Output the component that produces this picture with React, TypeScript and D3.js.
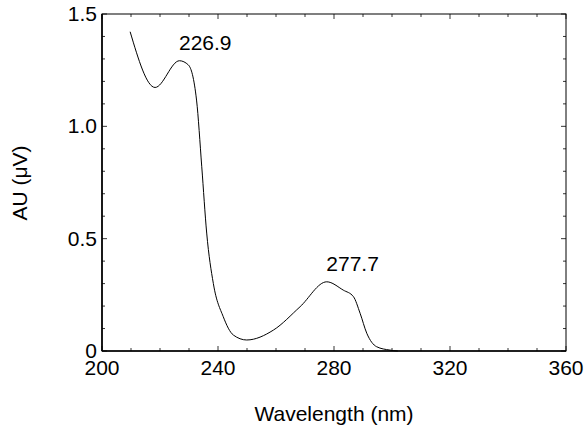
// @ts-nocheck
import React, { useEffect, useRef } from "react";
import * as d3 from "d3";

const wavelength = [209.7, 218.3, 226.7, 229.8, 232.6, 234.4, 236.1, 238.4, 241.8, 245.3, 249.9, 259.1, 268.3, 277.5, 283.2, 286.7, 289, 291.3, 294.7, 299.3, 302];
const absorbance = [1.421, 1.173, 1.292, 1.273, 1.117, 0.82, 0.525, 0.3, 0.153, 0.071, 0.049, 0.093, 0.197, 0.308, 0.271, 0.242, 0.168, 0.079, 0.019, 0.004, 0.0];
const peaks = [{ x: 226.9, label: "226.9" }, { x: 277.7, label: "277.7" }];
const peakY = [1.29, 0.308];
const xTicks = [200, 240, 280, 320, 360];
const yTicks = [0, 0.5, 1.0, 1.5];
const yTickLabels = ["0", "0.5", "1.0", "1.5"];

export default function App() {
  const ref = useRef();
  useEffect(() => {
    const svg = d3.select(ref.current);
    svg.selectAll("*").remove();
    const W = 587, H = 433;
    const m = { left: 102, right: 566, top: 14, bottom: 351 };
    const x = d3.scaleLinear().domain([200, 360]).range([m.left, m.right]);
    const y = d3.scaleLinear().domain([0, 1.5]).range([m.bottom, m.top]);
    const font = "Liberation Sans, Arial, sans-serif";
    const fs = 21;

    svg.append("rect").attr("width", W).attr("height", H).attr("fill", "white");

    // ticks, inward on all four sides
    const g = svg.append("g").attr("stroke", "black").attr("stroke-width", 0.8);
    d3.range(200, 361, 10).forEach((v) => {
      const len = v % 40 === 0 ? 5 : 3;
      g.append("line").attr("x1", x(v)).attr("x2", x(v)).attr("y1", m.bottom).attr("y2", m.bottom - len);
      g.append("line").attr("x1", x(v)).attr("x2", x(v)).attr("y1", m.top).attr("y2", m.top + len);
    });
    d3.range(0, 16).forEach((i) => {
      const v = i / 10;
      const len = i % 5 === 0 ? 5 : 3;
      g.append("line").attr("y1", y(v)).attr("y2", y(v)).attr("x1", m.left).attr("x2", m.left + len);
      g.append("line").attr("y1", y(v)).attr("y2", y(v)).attr("x1", m.right).attr("x2", m.right - len);
    });

    svg.append("rect").attr("x", m.left).attr("y", m.top).attr("width", m.right - m.left)
      .attr("height", m.bottom - m.top).attr("fill", "none").attr("stroke", "black").attr("stroke-width", 1);
    svg.append("line").attr("x1", m.left).attr("x2", m.right).attr("y1", m.bottom).attr("y2", m.bottom)
      .attr("stroke", "black").attr("stroke-width", 1.6);
    svg.append("line").attr("x1", m.left).attr("x2", m.left).attr("y1", m.top).attr("y2", m.bottom)
      .attr("stroke", "black").attr("stroke-width", 1.6);

    const line = d3.line().x((d) => x(d[0])).y((d) => y(d[1])).curve(d3.curveMonotoneX);
    svg.append("path").datum(wavelength.map((w, i) => [w, absorbance[i]]))
      .attr("d", line).attr("fill", "none").attr("stroke", "black").attr("stroke-width", 1);

    xTicks.forEach((v) => {
      svg.append("text").attr("x", x(v)).attr("y", m.bottom + 24).attr("text-anchor", "middle")
        .attr("font-family", font).attr("font-size", fs).text(v);
    });
    yTicks.forEach((v, i) => {
      svg.append("text").attr("x", m.left - 5).attr("y", y(v) + 7).attr("text-anchor", "end")
        .attr("font-family", font).attr("font-size", fs).text(yTickLabels[i]);
    });
    peaks.forEach((p, i) => {
      svg.append("text").attr("x", x(p.x) - 1).attr("y", y(peakY[i]) - 11).attr("text-anchor", "start")
        .attr("font-family", font).attr("font-size", fs).text(p.label);
    });

    svg.append("text").attr("x", 334).attr("y", 421).attr("text-anchor", "middle")
      .attr("font-family", font).attr("font-size", fs).text("Wavelength (nm)");
    svg.append("text").attr("transform", "translate(27,183) rotate(-90)").attr("text-anchor", "middle")
      .attr("font-family", font).attr("font-size", fs).text("AU (\u03bcV)");
  }, []);
  return <svg ref={ref} width={587} height={433} style={{ position: "absolute", left: 0, top: 0 }} />;
}
